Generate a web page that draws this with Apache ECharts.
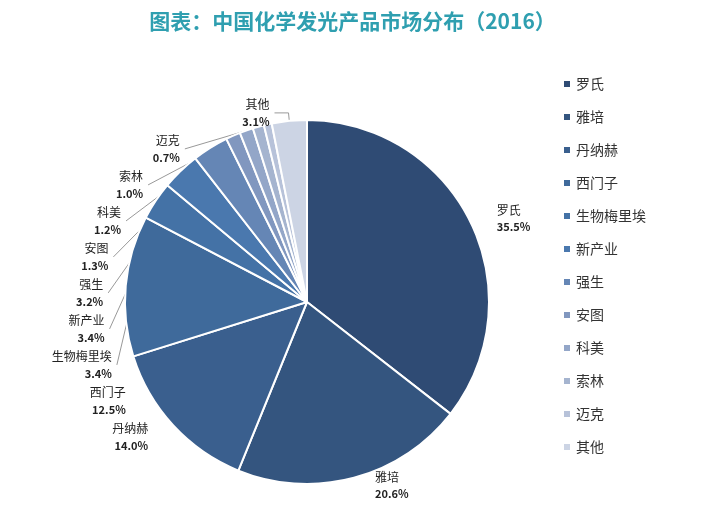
<!DOCTYPE html>
<html><head><meta charset="utf-8">
<script src="https://cdn.jsdelivr.net/npm/echarts@6/dist/echarts.min.js"></script>
<style>html,body{margin:0;padding:0;background:#fff}#c{width:705px;height:525px}</style>
</head><body><div id="c"></div>
<script>
const categories=['罗氏','雅培','丹纳赫','西门子','生物梅里埃','新产业','强生','安图','科美','索林','迈克','其他'];
const values=[35.5,20.6,14.0,12.5,3.4,3.4,3.2,1.3,1.2,1.0,0.7,3.1];
const colors=['#2f4b74','#34557f','#3a5f8e','#3f6a9b','#4472a6','#4a78ae','#6586b5','#8197bf','#93a6c8','#a5b4cf','#b7c2d9','#ccd4e4'];
const data=categories.map((n,i)=>({name:n,value:values[i],itemStyle:{color:colors[i]},
  labelLine:{show:i>=4},label:{}}));
const chart=echarts.init(document.getElementById('c'));
chart.setOption({
  backgroundColor:'#fff',
  title:{text:'图表：中国化学发光产品市场分布（2016）',left:'center',top:6,
    textStyle:{color:'#2f9fb0',fontSize:21,fontWeight:'bold',fontFamily:'Noto Sans CJK SC'}},
  legend:{orient:'vertical',left:557,top:72,itemGap:19,itemWidth:8,itemHeight:8,icon:'rect',
    data:categories,textStyle:{fontSize:14,color:'#333',fontFamily:'Noto Sans CJK SC'}},
  series:[{type:'pie',center:[307,302],radius:[0,182],startAngle:90,clockwise:true,
    avoidLabelOverlap:true,
    itemStyle:{borderColor:'#fff',borderWidth:2},
    label:{show:true,position:'outside',fontFamily:'Noto Sans CJK SC',color:'#222',
      formatter:p=>p.name+'\n{v|'+p.value.toFixed(1)+'%}',fontSize:12,lineHeight:17,
      rich:{v:{fontWeight:'bold',fontSize:11,color:'#222',fontFamily:'Noto Sans CJK SC'}}},
    labelLine:{length:8,length2:14,lineStyle:{color:'#999'}},
    data:data}]
});
</script></body></html>
